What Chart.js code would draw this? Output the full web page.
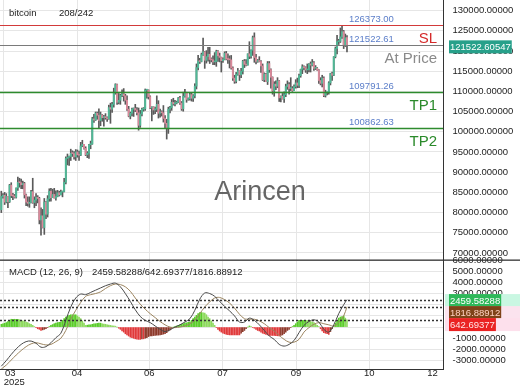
<!DOCTYPE html>
<html>
<head>
<meta charset="utf-8">
<script src="https://cdn.jsdelivr.net/npm/chart.js@4"></script>
<style>
  html, body { margin: 0; padding: 0; background: #fff; }
  #wrap { position: relative; width: 520px; height: 390px; overflow: hidden; }
  #price { position: absolute; left: 0; top: 0; }
  #macd { position: absolute; left: 0; top: 250px; }
</style>
</head>
<body>
<div id="wrap">
  <canvas id="price" width="520" height="260"></canvas>
  <canvas id="macd" width="520" height="140"></canvas>
</div>
<script>
// daily candles, 14 Mar - 9 Oct 2025, prices in thousands
const closeK = [
  84.0,84.3,82.6,84.0,82.7,86.8,84.2,84.1,83.8,86.1,87.5,87.4,86.9,87.2,84.4,82.6,82.3,82.5,
  85.2,82.5,83.1,83.8,83.5,78.2,79.2,76.3,82.6,79.6,83.4,85.3,83.7,84.5,83.6,84.0,84.9,84.4,85.1,85.2,87.5,93.4,93.7,93.9,94.7,94.6,93.8,95.0,94.3,94.2,
  96.5,96.9,95.9,94.3,94.7,96.8,97.0,103.2,102.9,104.6,104.1,102.8,104.2,103.5,103.7,103.5,103.2,106.0,105.6,106.8,109.7,111.7,107.3,107.8,109.0,109.4,108.9,107.8,105.6,103.9,104.6,
  105.6,105.8,105.4,104.7,101.6,104.4,105.6,105.7,110.3,110.3,108.7,105.9,106.1,105.4,105.6,106.8,104.6,104.9,104.7,103.3,102.1,101.0,105.6,106.0,107.3,106.9,107.1,107.3,108.4,107.1,
  105.7,108.8,109.6,108.0,108.2,109.2,108.3,108.9,111.3,115.9,117.5,117.4,119.1,119.8,117.7,118.6,119.2,117.9,117.8,117.3,117.4,119.9,118.8,118.4,117.6,117.9,119.4,118.0,117.9,117.8,115.8,
  113.3,112.5,114.2,115.1,114.1,115.0,117.5,116.7,116.5,119.3,118.7,120.2,123.3,118.4,117.4,117.5,117.4,116.3,112.9,114.3,112.4,116.9,115.4,113.5,110.1,111.8,111.3,112.6,108.4,108.8,108.2,
  109.2,111.2,111.7,110.7,110.7,110.2,111.2,112.1,111.5,113.9,115.5,116.1,115.9,115.3,115.4,116.8,116.5,117.1,115.7,115.7,115.3,112.7,112.0,113.3,109.0,109.7,109.7,112.1,114.4,114.0,
  118.6,120.6,122.3,122.4,123.5,124.8,121.5,123.3,121.5
];
const highK = [
  85.3,84.7,85.0,84.7,84.0,87.0,87.4,84.8,84.5,86.1,88.8,88.5,88.3,87.8,87.5,84.6,83.9,83.9,
  85.5,88.5,83.9,84.7,84.2,83.8,81.2,80.8,83.5,82.7,84.2,85.9,86.0,85.8,86.0,85.4,85.5,85.3,85.6,85.3,88.5,93.8,94.5,94.0,95.7,95.3,95.1,95.6,95.5,95.2,
  97.4,97.9,96.9,96.3,95.1,96.9,97.7,103.6,104.3,104.9,104.9,105.7,104.9,104.3,104.1,104.5,103.7,106.6,107.1,107.3,110.8,111.9,111.8,109.5,109.3,110.4,110.7,109.3,108.9,106.3,104.9,
  105.9,105.9,106.8,106.0,105.9,105.3,105.9,106.0,110.6,110.4,110.4,108.9,106.2,106.2,106.1,108.9,107.7,105.6,105.2,106.5,104.0,103.1,106.1,106.3,108.0,108.3,107.8,107.6,108.5,108.8,
  107.5,109.8,110.5,109.8,108.4,109.7,109.7,109.2,111.9,116.8,118.9,118.2,119.5,123.2,119.9,120.1,120.9,120.9,118.3,118.8,119.6,120.2,120.1,119.5,118.5,118.3,119.8,119.9,119.3,118.8,118.9,
  116.1,114.0,114.7,115.7,115.1,115.7,117.7,117.9,117.9,119.3,122.3,120.3,123.7,124.5,119.2,117.9,118.6,117.6,116.8,114.6,114.5,117.4,117.4,115.6,113.6,112.4,112.6,113.4,112.7,108.9,109.5,
  109.9,111.8,112.6,112.2,113.4,111.2,111.6,112.9,113.3,114.3,115.5,116.6,116.3,116.1,116.8,116.9,117.3,117.9,117.4,116.4,115.9,115.4,113.4,114.0,113.6,110.3,109.8,112.4,114.5,114.8,
  118.6,121.0,123.9,122.9,125.7,126.3,125.1,124.2,123.8
];
const lowK = [
  80.0,83.6,82.0,82.4,81.2,82.5,83.7,83.2,83.6,83.6,85.5,86.3,85.9,85.9,83.6,81.7,81.6,81.3,
  82.4,82.3,81.2,81.7,82.4,77.2,74.4,76.2,74.6,78.5,78.9,82.8,82.8,83.7,83.6,83.1,83.9,84.1,84.4,83.9,85.1,87.1,91.8,91.7,92.9,93.9,93.2,92.9,93.7,92.9,
  94.1,96.3,95.7,94.1,93.6,93.4,95.8,96.9,102.3,102.8,103.1,100.8,101.5,102.6,101.4,103.1,102.6,103.1,102.1,104.8,106.1,109.3,106.8,106.9,106.8,108.7,107.6,106.8,105.3,103.7,103.2,
  103.9,103.8,105.0,104.2,100.4,101.1,103.9,105.1,105.3,108.3,108.1,105.7,102.7,104.3,104.5,105.0,103.4,103.6,103.9,102.4,100.9,98.2,99.6,104.7,105.3,106.6,106.4,106.9,107.2,106.8,
  105.3,105.1,108.6,107.3,107.8,107.8,107.6,107.5,108.4,110.6,115.3,116.9,117.3,118.9,115.7,117.0,117.5,116.9,117.3,116.6,116.6,116.2,117.4,117.3,114.8,117.2,117.8,117.8,116.9,115.8,115.5,
  112.7,112.0,112.1,114.0,112.7,113.4,114.3,115.9,116.3,116.5,118.1,118.2,118.9,117.2,116.8,117.2,117.3,114.7,112.7,112.4,112.4,111.7,114.7,110.8,109.3,108.8,110.4,110.9,107.5,107.4,108.1,
  107.3,108.7,110.5,109.3,110.2,110.0,110.2,110.8,110.9,110.9,113.5,114.4,115.3,114.7,114.4,114.8,114.8,116.3,115.2,115.4,115.2,112.0,111.6,111.1,108.7,108.6,109.1,109.3,111.6,112.7,
  113.9,118.3,119.3,121.6,122.1,123.1,120.6,121.1,119.8
];
const firstOpenK = 80.7;

const levelValues = [126373.00, 121522.61, 109791.26, 100862.63];
const levelNames = ['SL', 'At Price', 'TP1', 'TP2'];
const lastPrice = 121522.60547;
const priceTicks = [70000, 75000, 80000, 85000, 90000, 95000, 100000, 105000, 110000, 115000, 120000, 125000, 130000];

// MACD (12, 26, 9): lines sampled every 3rd day (last point = last day), values in thousands
const macdLine = [
  -3.5,-3.0,-2.45,-1.95,-1.55,-1.3,-1.25,-1.45,-1.8,-1.75,
  -1.4,-0.95,-0.55,0.6,1.8,2.6,2.95,2.9,3.1,3.3,
  3.5,3.7,3.85,3.93,3.6,3.0,2.3,1.55,0.95,0.6,
  0.4,0.1,-0.2,-0.4,-0.25,0.0,0.2,0.45,0.75,1.5,
  2.5,3.05,3.0,2.75,2.3,1.85,1.45,1.0,0.45,0.45,
  0.8,0.6,0.2,-0.3,-0.8,-1.1,-1.55,-1.7,-1.55,-1.2,
  -0.5,0.15,0.5,0.65,0.45,-0.2,-0.45,0.2,1.2,2.0,2.46
];
const signalLine = [
  -3.75,-3.4,-2.95,-2.5,-2.1,-1.75,-1.5,-1.4,-1.5,-1.6,
  -1.55,-1.3,-1.0,-0.3,0.7,1.5,2.2,2.75,2.9,3.0,
  3.15,3.45,3.7,3.85,3.8,3.6,3.2,2.6,2.05,1.6,
  1.2,0.85,0.5,0.2,0.0,-0.05,0.0,0.1,0.3,0.6,
  1.2,1.8,2.25,2.6,2.65,2.45,2.15,1.7,1.15,0.75,
  0.7,0.7,0.55,0.3,-0.05,-0.35,-0.75,-1.1,-1.35,-1.35,
  -1.1,-0.45,-0.05,0.25,0.4,0.3,0.2,0.1,0.4,1.0,1.82
];
// histogram, one value per day, thousands
const macdHist = [
  0.25,0.3,0.35,0.4,0.5,0.6,0.7,0.7,0.7,0.7,0.7,0.65,0.6,0.55,0.5,0.45,0.4,0.3,0.25,0.15,
  0.05,-0.05,-0.15,-0.2,-0.3,-0.25,-0.2,-0.15,-0.05,0.05,0.15,0.22,0.3,0.35,0.4,0.42,0.45,0.6,0.75,0.9,
  0.97,1.05,1.1,1.1,1.1,1.1,1.0,0.9,0.75,0.55,0.35,0.15,0.17,0.2,0.2,0.25,0.3,0.3,0.33,0.35,
  0.35,0.3,0.27,0.25,0.2,0.18,0.15,0.12,0.1,0.08,0.0,-0.1,-0.2,-0.35,-0.45,-0.6,-0.7,-0.8,-0.9,-0.95,
  -1.0,-1.05,-1.08,-1.1,-1.1,-1.05,-1.05,-1.0,-0.95,-0.85,-0.8,-0.78,-0.76,-0.75,-0.73,-0.72,-0.7,-0.67,-0.63,-0.6,
  -0.5,-0.35,-0.25,-0.12,0.0,0.05,0.1,0.15,0.2,0.25,0.3,0.35,0.38,0.42,0.45,0.6,0.75,0.9,1.05,1.2,
  1.3,1.3,1.28,1.25,1.1,0.9,0.75,0.55,0.35,0.15,-0.05,-0.2,-0.35,-0.45,-0.55,-0.6,-0.65,-0.68,-0.7,-0.7,
  -0.7,-0.7,-0.7,-0.7,-0.7,-0.55,-0.4,-0.3,-0.15,0.0,0.1,0.05,-0.05,-0.1,-0.2,-0.3,-0.35,-0.45,-0.55,-0.6,
  -0.65,-0.7,-0.75,-0.75,-0.75,-0.75,-0.77,-0.78,-0.8,-0.75,-0.7,-0.6,-0.45,-0.3,-0.2,-0.05,0.05,0.15,0.3,0.45,
  0.6,0.6,0.6,0.6,0.6,0.58,0.55,0.5,0.45,0.4,0.25,0.15,0.05,-0.15,-0.35,-0.5,-0.55,-0.6,-0.65,-0.4,
  -0.15,0.1,0.35,0.6,0.8,0.9,0.95,1.0,0.8,0.64
];
const macdNow = [2459.58288, 642.69377, 1816.88912]; // macd / hist / signal
const macdTicks = [-3000, -2000, -1000, 0, 1000, 2000, 3000, 4000, 5000, 6000];

// x axis: day slots, ticks and their labels
const X_MIN = -0.79, X_MAX = 267.05;
const tickDays = [1.45, 45.8, 89.5, 133.7, 178.2, 222.5, 267.05];
const tickNames = [['\u2007\u2007 03', '\u2007\u2007\u2007\u20072025'], '04', '06', '07', '09', '10', '12\u2007\u2007\u2007\u2007'];

const FONT = "'Liberation Sans', Arial, sans-serif";
const GRID = '#e6e6e6';
const UP = '#4fb896', DOWN = '#d9899a';
Chart.defaults.font.family = FONT;
Chart.defaults.font.size = 9.5;
Chart.defaults.color = '#222';

const openK = closeK.map((c, i) => i ? closeK[i - 1] : firstOpenK);
const wicks = closeK.map((c, i) => ({ x: i, y: [Math.min(lowK[i], openK[i], c) * 1000, Math.max(highK[i], openK[i], c) * 1000] }));
const bodies = closeK.map((c, i) => ({ x: i, y: [openK[i] * 1000, c * 1000] }));
const bodyColors = closeK.map((c, i) => c >= openK[i] ? UP : DOWN);

const xScale = (showLabels) => ({
  type: 'linear', min: X_MIN, max: X_MAX, offset: false,
  grid: { color: GRID, drawTicks: false, offset: false },
  border: { display: showLabels, color: '#333', width: 1 },
  afterBuildTicks: s => { s.ticks = tickDays.map(v => ({ value: v })); },
  afterFit: s => { s.height = showLabels ? 21 : 0; s.paddingLeft = 0; s.paddingRight = 0; },
  ticks: showLabels
    ? { autoSkip: false, maxRotation: 0, padding: 0, color: '#222', font: { size: 9.5, lineHeight: 0.95 }, callback: (v, i) => tickNames[i] }
    : { display: false }
});

const yScale = (min, max, list) => ({
  position: 'right', min, max,
  grid: { color: GRID, drawTicks: false },
  border: { display: true, color: '#333', width: 1 },
  afterBuildTicks: s => { s.ticks = list.map(v => ({ value: v })); },
  ticks: { autoSkip: false, padding: 9.5, color: '#222', font: { size: 9.5, lineHeight: 1 }, callback: v => v.toFixed(5) },
  afterFit: s => { s.width = 77; s.paddingTop = 0; s.paddingBottom = 0; }
});

function valueLabel(ctx, text, x, y, bg, fg, band) {
  ctx.font = '9.5px ' + FONT;
  const w = ctx.measureText(text).width;
  if (band) { ctx.fillStyle = band; ctx.fillRect(445, y - 6.5, 75, 13); }
  ctx.fillStyle = bg;
  ctx.fillRect(x, y - 6.5, w + 2, 13);
  ctx.fillStyle = fg;
  ctx.textAlign = 'left'; ctx.textBaseline = 'middle';
  ctx.fillText(text, x + 1, y + 0.5);
}

const pricePanel = {
  id: 'pricePanel',
  beforeDatasetsDraw(chart) {
    const { ctx } = chart;
    ctx.save();
    ctx.font = '27px ' + FONT;
    ctx.fillStyle = 'rgba(85,85,85,0.9)';
    ctx.textAlign = 'center'; ctx.textBaseline = 'middle';
    ctx.fillText('Arincen', 260, 193);
    ctx.restore();
  },
  afterDatasetsDraw(chart) {
    const { ctx, chartArea: a, scales: { y } } = chart;
    const lineCol = ['#d23a3a', '#7a7a7a', '#2e8b2e', '#2e8b2e'];
    const nameCol = ['#d42a2a', '#8a8a8a', '#2a8a2a', '#2a8a2a'];
    const widths = [1.2, 1, 1.5, 1.5];
    ctx.save();
    levelValues.forEach((v, k) => {
      const py = Math.round(y.getPixelForValue(v)) + 0.5;
      ctx.strokeStyle = lineCol[k]; ctx.lineWidth = widths[k];
      ctx.beginPath(); ctx.moveTo(a.left, py); ctx.lineTo(a.right, py); ctx.stroke();
      ctx.font = '9.5px ' + FONT;
      ctx.fillStyle = '#5b7ec9';
      ctx.textAlign = 'left'; ctx.textBaseline = 'middle';
      ctx.fillText(v.toFixed(2), 349, py - 6);
      ctx.font = '15px ' + FONT;
      ctx.fillStyle = nameCol[k];
      ctx.textAlign = 'right';
      ctx.fillText(levelNames[k], 437, py + 13);
    });
    ctx.font = '9.5px ' + FONT;
    ctx.fillStyle = '#222';
    ctx.textAlign = 'left'; ctx.textBaseline = 'middle';
    ctx.fillText('bitcoin', 9, 13);
    ctx.fillText('208/242', 59, 13);
    ctx.restore();
  },
  afterDraw(chart) {
    const { ctx, scales: { y } } = chart;
    ctx.save();
    valueLabel(ctx, lastPrice.toFixed(5), 449, y.getPixelForValue(lastPrice) + 2, '#27a08a', '#fff');
    ctx.restore();
  }
};

new Chart(document.getElementById('price'), {
  type: 'bar',
  data: {
    datasets: [
      { data: wicks, backgroundColor: '#5a5a5a', barThickness: 1, grouped: false, order: 2 },
      { data: bodies, backgroundColor: bodyColors, barThickness: 1.3, grouped: false, minBarLength: 1, order: 1 }
    ]
  },
  options: {
    responsive: false, animation: false, events: [],
    layout: { padding: 0 },
    plugins: { legend: { display: false }, tooltip: { enabled: false } },
    scales: {
      x: xScale(false),
      y: yScale(68267, 132624, priceTicks)
    }
  },
  plugins: [pricePanel]
});

// MACD panel
const histPts = macdHist.map((h, i) => ({ x: i, y: h * 1000 }));
const histColors = macdHist.map((h, i) => {
  const prev = i ? macdHist[i - 1] : h;
  if (h >= 0) return h >= prev ? '#5bcc2a' : '#8fd95e';
  return h <= prev ? '#e03a3a' : '#8b3a2a';
});
const lineDay = k => Math.min(k * 3, closeK.length - 1);
const macdPts = macdLine.map((v, k) => ({ x: lineDay(k), y: v * 1000 }));
const signalPts = signalLine.map((v, k) => ({ x: lineDay(k), y: v * 1000 }));

const macdPanel = {
  id: 'macdPanel',
  afterDatasetsDraw(chart) {
    const { ctx, chartArea: a, scales: { y } } = chart;
    ctx.save();
    ctx.setLineDash([2, 2]);
    ctx.strokeStyle = '#333'; ctx.lineWidth = 1.5;
    macdNow.forEach(v => {
      const py = Math.round(y.getPixelForValue(v)) + 0.5;
      ctx.beginPath(); ctx.moveTo(a.left, py); ctx.lineTo(a.right, py); ctx.stroke();
    });
    ctx.restore();
  },
  afterDraw(chart) {
    const { ctx, chartArea: a, scales: { y } } = chart;
    ctx.save();
    ctx.fillStyle = '#333';
    ctx.fillRect(0, a.top - 0.5, 520, 1.3);
    ctx.font = '9.5px ' + FONT;
    ctx.fillStyle = '#222';
    ctx.textAlign = 'left'; ctx.textBaseline = 'middle';
    ctx.fillText('MACD (12, 26, 9)', 9, a.top + 12);
    ctx.fillText(macdNow.map(v => v.toFixed(5)).join('/'), 92, a.top + 12);
    // value boxes on the axis, stacked from the highest value down
    const boxes = [
      { v: macdNow[0], bg: '#2fb85a', fg: '#fff', band: '#c9f7e2' },
      { v: macdNow[2], bg: '#7e4318', fg: '#ffd2c2', band: '#fbe3ee' },
      { v: macdNow[1], bg: '#ea2323', fg: '#ffe6e6', band: '#fde0ec' }
    ];
    let bottom = -Infinity;
    boxes.forEach(b => {
      const cy = Math.max(y.getPixelForValue(b.v) + 1, bottom + 6);
      valueLabel(ctx, b.v.toFixed(5), 449, cy, b.bg, b.fg, b.band);
      bottom = cy + 6;
    });
    ctx.restore();
  }
};

new Chart(document.getElementById('macd'), {
  type: 'bar',
  data: {
    datasets: [
      { type: 'line', data: histPts, fill: { target: 'origin', above: '#d3f4cc', below: '#fddbe4' }, borderColor: 'transparent', pointRadius: 0, tension: 0, order: 4 },
      { data: histPts, backgroundColor: histColors, barThickness: 0.9, grouped: false, order: 3 },
      { type: 'line', data: signalPts, borderColor: '#9c8560', borderWidth: 1, pointRadius: 0, tension: 0.35, fill: false, order: 2 },
      { type: 'line', data: macdPts, borderColor: '#4a4a4a', borderWidth: 1, pointRadius: 0, tension: 0.35, fill: false, order: 1 }
    ]
  },
  options: {
    responsive: false, animation: false, events: [],
    layout: { padding: { top: 10, left: 0, right: 0, bottom: 0 } },
    plugins: { legend: { display: false }, tooltip: { enabled: false } },
    scales: {
      x: xScale(true),
      y: yScale(-3750, 6000, macdTicks)
    }
  },
  plugins: [macdPanel]
});
</script>
</body>
</html>
